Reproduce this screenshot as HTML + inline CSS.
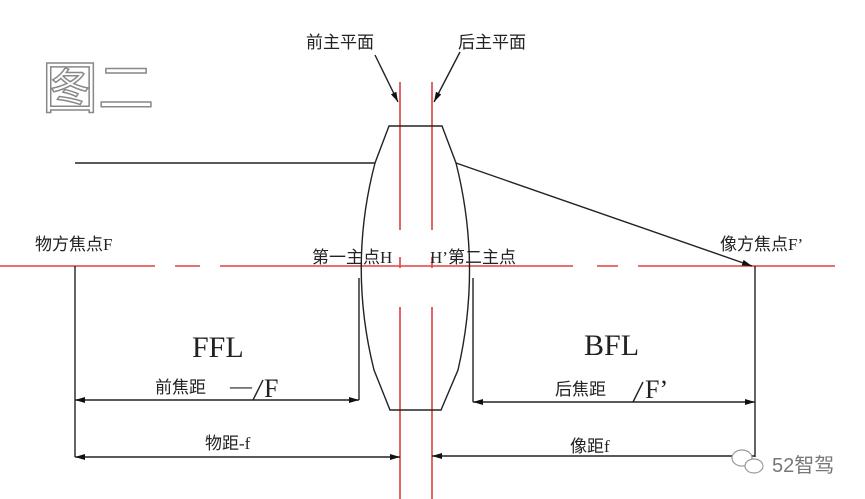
<!DOCTYPE html>
<html><head><meta charset="utf-8"><style>
html,body{margin:0;padding:0;background:#fff;}
svg{display:block;}
text{font-family:"Liberation Serif","Noto Serif CJK SC",serif;fill:#222;}
.cj{font-family:"Liberation Serif","Noto Sans CJK SC",sans-serif;font-size:17px;}
</style></head><body>
<svg width="865" height="499" viewBox="0 0 865 499" xmlns="http://www.w3.org/2000/svg">
<defs>
<marker id="a" viewBox="0 0 10 6" refX="10" refY="3" markerWidth="10" markerHeight="6" orient="auto-start-reverse" markerUnits="userSpaceOnUse"><path d="M0,0 L10,3 L0,6 Z" fill="#111"/></marker>
</defs>
<!-- 图二 -->
<text x="42" y="108" style="font-family:'Noto Sans CJK SC',sans-serif;font-size:56px;fill:#fff;stroke:#888;stroke-width:1.5">图二</text>
<!-- red axis -->
<g stroke="#e04040" stroke-width="1.6">
<line x1="0" y1="266" x2="155" y2="266"/>
<line x1="175" y1="266" x2="200" y2="266"/>
<line x1="220" y1="266" x2="573" y2="266"/>
<line x1="597" y1="266" x2="618" y2="266"/>
<line x1="638" y1="266" x2="835" y2="266"/>
<line x1="400" y1="82" x2="400" y2="230"/>
<line x1="400" y1="257" x2="400" y2="268"/>
<line x1="400" y1="307" x2="400" y2="499"/>
<line x1="432" y1="82" x2="432" y2="230"/>
<line x1="432" y1="257" x2="432" y2="268"/>
<line x1="432" y1="307" x2="432" y2="499"/>
</g>
<g stroke="#222" stroke-width="1.4" fill="none">
<!-- lens -->
<path d="M389,126 L442,126 L456,163 Q482,266 458,370 L441,410 L390,410 L374,370 Q348,266 375,163 Z"/>
<line x1="75" y1="163" x2="375" y2="163"/>
<line x1="456" y1="163" x2="752" y2="266" marker-end="url(#a)"/>
<line x1="75" y1="266" x2="75" y2="457"/>
<line x1="755" y1="266" x2="755" y2="457"/>
<line x1="359" y1="278" x2="359" y2="400"/>
<line x1="473" y1="278" x2="473" y2="402"/>
<line x1="75" y1="400" x2="359" y2="400" marker-start="url(#a)" marker-end="url(#a)"/>
<line x1="473" y1="402" x2="755" y2="402" marker-start="url(#a)" marker-end="url(#a)"/>
<line x1="75" y1="457" x2="400" y2="457" marker-start="url(#a)" marker-end="url(#a)"/>
<line x1="432" y1="456" x2="755" y2="456" marker-start="url(#a)"/>
<line x1="375" y1="55" x2="398" y2="102" marker-end="url(#a)"/>
<line x1="460" y1="52" x2="434" y2="102" marker-end="url(#a)"/>
<line x1="253" y1="400" x2="263" y2="380"/>
<line x1="633" y1="402" x2="643" y2="382"/>
</g>
<text class="cj" x="306" y="48">前主平面</text>
<text class="cj" x="458" y="48">后主平面</text>
<text class="cj" x="35" y="250">物方焦点F</text>
<text class="cj" x="312" y="263">第一主点H</text>
<text class="cj" x="430" y="263">H’第二主点</text>
<text class="cj" x="720" y="250">像方焦点F’</text>
<text x="192" y="357" style="font-size:30px">FFL</text>
<text x="584" y="355" style="font-size:30px">BFL</text>
<text class="cj" x="155" y="393">前焦距</text>
<text x="230" y="393" style="font-size:22px">—</text>
<text x="264" y="397" style="font-size:26px">F</text>
<text class="cj" x="555" y="395">后焦距</text>
<text x="645" y="398" style="font-size:26px">F’</text>
<text class="cj" x="205" y="449">物距-f</text>
<text class="cj" x="570" y="452">像距f</text>
<!-- watermark -->
<g stroke="#999" stroke-width="1.2" fill="#fff">
<ellipse cx="742" cy="458" rx="10" ry="8"/>
<ellipse cx="754" cy="466" rx="9" ry="7"/>
</g>
<text x="772" y="472" style="font-family:'Liberation Sans','Noto Sans CJK SC',sans-serif;font-size:20px;fill:#777">52智驾</text>
</svg>
</body></html>
